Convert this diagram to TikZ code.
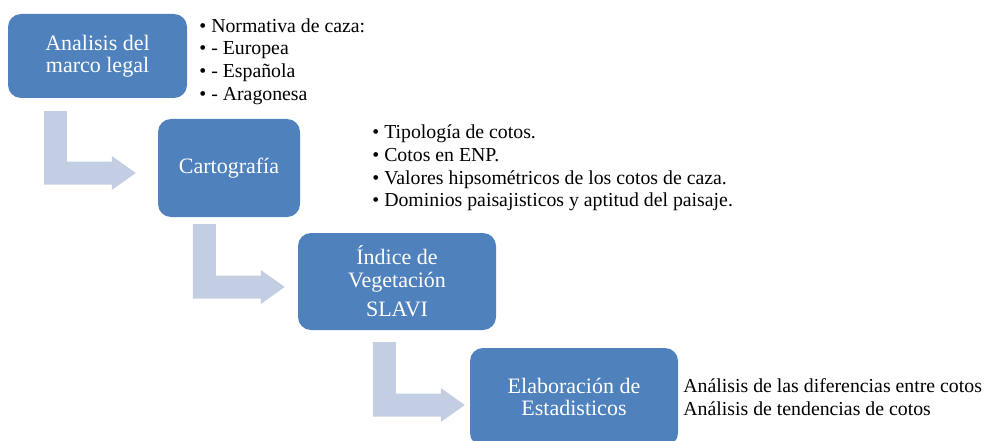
\documentclass[tikz,border=0pt]{standalone}
\usepackage{fontspec}
\setmainfont{Liberation Serif}
\usetikzlibrary{calc,positioning}
\definecolor{stepblue}{HTML}{4F81BD}
\definecolor{bendgray}{HTML}{C4CEE2}
% bent block arrow from the top of its stem (#1) to its tip (#2)
\newcommand{\bendarrow}[2]{%
  \fill[bent] let \p1=(#1), \p2=(#2) in
    (\x1,\y1) -- (\x1+23pt,\y1) -- (\x1+23pt,\y2+11.5pt) -- (\x2-24pt,\y2+11.5pt)
    -- (\x2-24pt,\y2+17pt) -- (\x2,\y2) -- (\x2-24pt,\y2-17pt)
    -- (\x2-24pt,\y2-11.5pt) -- (\x1,\y2-11.5pt) -- cycle;}

\begin{document}
\begin{tikzpicture}[
    x=1pt, y=-1pt,
    stepbox/.style={fill=stepblue, rounded corners=13pt, text=white, align=center, inner sep=0pt, font=\fontsize{22}{22.5}\selectfont},
    notes/.style={align=left, inner sep=0pt, font=\fontsize{19.8}{22.7}\selectfont},
    bent/.style={fill=bendgray}
]
\useasboundingbox (0,0) rectangle (984,441);

% Steps
\node[stepbox, minimum width=179pt, minimum height=84pt] (marco) at (97.5,56) {Analisis del\\marco legal};
\node[stepbox, minimum width=142pt, minimum height=98pt] (carto) at (229,168) {Cartografía};
\node[stepbox, minimum width=198pt, minimum height=97pt] (indice) at (397,281.5) {Índice de\\Vegetación\\[7pt]SLAVI};
\node[stepbox, minimum width=208pt, minimum height=98pt] (estad) at (574,397) {Elaboración de\\Estadisticos};

% Notes
\node[notes, anchor=west] (marconotes) at ($(marco.east)+(12,5.5)$) {• Normativa de caza:\\• - Europea\\• - Española\\• - Aragonesa};
\node[notes, right=72pt of carto] (cartonotes) {• Tipología de cotos.\\• Cotos en ENP.\\• Valores hipsométricos de los cotos de caza.\\• Dominios paisajisticos y aptitud del paisaje.};
\node[notes, right=5pt of estad] (estadnotes) {Análisis de las diferencias entre cotos\\Análisis de tendencias de cotos};

% Arrows
\coordinate (s1) at ($(marco.south west)+(36,13)$);
\coordinate (t1) at ($(carto.west)+(-22,5)$);
\coordinate (s2) at ($(carto.south west)+(35,7)$);
\coordinate (t2) at ($(indice.west)+(-13,5.5)$);
\coordinate (s3) at ($(indice.south west)+(75,12)$);
\coordinate (t3) at ($(estad.west)+(-5,8)$);
\bendarrow{s1}{t1}
\bendarrow{s2}{t2}
\bendarrow{s3}{t3}

\end{tikzpicture}
\end{document}
